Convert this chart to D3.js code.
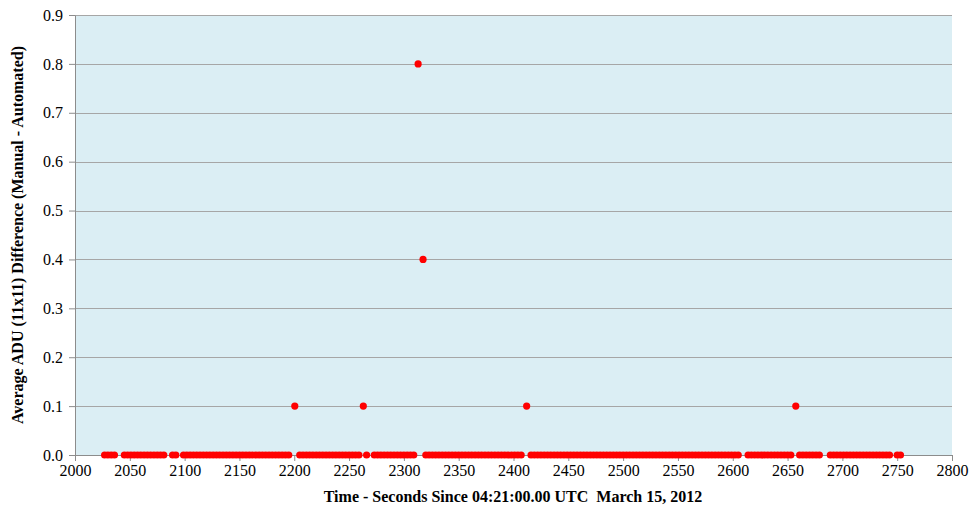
<!DOCTYPE html>
<meta charset="utf-8">
<style>
  body { margin: 0; background: #fff; }
  svg text { font-family: "Liberation Serif", "Times New Roman", "DejaVu Serif", serif; }
</style>
<svg width="971" height="508"></svg>
<script src="https://cdnjs.cloudflare.com/ajax/libs/d3/7.8.5/d3.min.js"></script>
<script>

// times (s) where the difference is zero
var zeroTimes = [
  2027, 2030, 2033, 2036,
  2045, 2048, 2051, 2054, 2057, 2060, 2063, 2066, 2069, 2072, 2075, 2078, 2081,
  2089, 2092,
  2099, 2102, 2105, 2108, 2111, 2114, 2117, 2120, 2123, 2126, 2129, 2132, 2135, 2138, 2141, 2144, 2147,
  2150, 2153, 2156, 2159, 2162, 2165, 2168, 2171, 2174, 2177, 2180, 2183, 2186, 2189, 2192, 2195,
  2205, 2208, 2211, 2214, 2217, 2220, 2223, 2226, 2229, 2232, 2235, 2238, 2241, 2244, 2247, 2250, 2253, 2256, 2259,
  2266,
  2273, 2276, 2279, 2282, 2285, 2288, 2291, 2294, 2297, 2300, 2303, 2306, 2309,
  2320, 2323, 2326, 2329, 2332, 2335, 2338, 2341, 2344, 2347, 2350, 2353, 2356, 2359, 2362, 2365, 2368,
  2371, 2374, 2377, 2380, 2383, 2386, 2389, 2392, 2395, 2398, 2401, 2404, 2407,
  2416, 2419, 2422, 2425, 2428, 2431, 2434, 2437, 2440, 2443, 2446, 2449, 2452, 2455, 2458, 2461, 2464,
  2467, 2470, 2473, 2476, 2479, 2482, 2485, 2488, 2491, 2494, 2497, 2500, 2503, 2506, 2509, 2512, 2515,
  2518, 2521, 2524, 2527, 2530, 2533, 2536, 2539, 2542, 2545, 2548, 2551, 2554, 2557, 2560, 2563, 2566,
  2569, 2572, 2575, 2578, 2581, 2584, 2587, 2590, 2593, 2596, 2599, 2602, 2605,
  2614, 2617, 2620, 2623, 2626, 2629, 2632, 2635, 2638, 2641, 2644, 2647, 2650, 2653,
  2661, 2664, 2667, 2670, 2673, 2676, 2679,
  2689, 2692, 2695, 2698, 2701, 2704, 2707, 2710, 2713, 2716, 2719, 2722, 2725, 2728, 2731, 2734, 2737,
  2740, 2743,
  2750, 2753
];

// non-zero differences
var spikeTimes  = [2200.5, 2263, 2313, 2317.5, 2412, 2657.5];
var spikeValues = [0.1,    0.1,  0.8,  0.4,    0.1,  0.1];

var xTicks = d3.range(2000, 2801, 50);
var yTicks = [0, 0.1, 0.2, 0.3, 0.4, 0.5, 0.6, 0.7, 0.8, 0.9];

var serif = "'Liberation Serif', 'Times New Roman', serif";

var svg = d3.select("svg"),
    margin = {top: 15, right: 19, bottom: 53, left: 75},
    width = svg.attr("width") - margin.left - margin.right,
    height = svg.attr("height") - margin.top - margin.bottom;

var x = d3.scaleLinear().domain([2000, 2800]).range([0, width]),
    y = d3.scaleLinear().domain([0, 0.9]).range([height, 0]);

var g = svg.append("g")
    .attr("transform", "translate(" + margin.left + "," + margin.top + ")");

g.append("rect")
    .attr("width", width)
    .attr("height", height)
    .attr("fill", "#dbeef4");

// gridlines
g.selectAll(".grid")
    .data(yTicks.slice(1))
    .enter().append("line")
    .attr("x1", 0).attr("x2", width)
    .attr("y1", function(d) { return Math.round(y(d)) + 0.5; })
    .attr("y2", function(d) { return Math.round(y(d)) + 0.5; })
    .attr("stroke", "#a6a6a6")
    .attr("stroke-width", 1);

var yAxis = g.append("g")
    .call(d3.axisLeft(y).tickValues(yTicks).tickFormat(d3.format(".1f")).tickSize(6).tickPadding(6));

var xAxis = g.append("g")
    .attr("transform", "translate(0," + height + ")")
    .call(d3.axisBottom(x).tickValues(xTicks).tickFormat(d3.format("d")).tickSize(6).tickPadding(4));

[yAxis, xAxis].forEach(function(a) {
  a.attr("font-family", serif).attr("font-size", 16);
  a.select(".domain").attr("stroke", "#8c8c8c");
  a.selectAll(".tick line").attr("stroke", "#8c8c8c");
  a.selectAll(".tick text")
    .attr("fill", "#000")
    .style("font-family", serif)
    .style("font-size", "16px");
});
xAxis.select(".domain").attr("d", "M0.5,0.5H" + (width + 0.5));
yAxis.select(".domain").attr("d", "M0.5,0.5V" + (height + 0.5));

// points
var pts = zeroTimes.map(function(t) { return {t: t, v: 0}; })
  .concat(spikeTimes.map(function(t, i) { return {t: t, v: spikeValues[i]}; }));

g.selectAll(".dot")
    .data(pts)
    .enter().append("circle")
    .attr("cx", function(d) { return x(d.t); })
    .attr("cy", function(d) { return y(d.v); })
    .attr("r", 3.6)
    .attr("fill", "#ff0000");

// axis titles
svg.append("text")
    .attr("x", 513)
    .attr("y", 502)
    .attr("text-anchor", "middle")
    .attr("font-weight", "bold")
    .style("font-family", serif)
    .style("font-size", "16px")
    .style("white-space", "pre")
    .text("Time - Seconds Since 04:21:00.00 UTC  March 15, 2012");

svg.append("text")
    .attr("transform", "translate(23," + (margin.top + height / 2) + ") rotate(-90)")
    .attr("text-anchor", "middle")
    .attr("font-weight", "bold")
    .style("font-family", serif)
    .style("font-size", "16px")
    .text("Average ADU (11x11) Difference (Manual - Automated)");

</script>
